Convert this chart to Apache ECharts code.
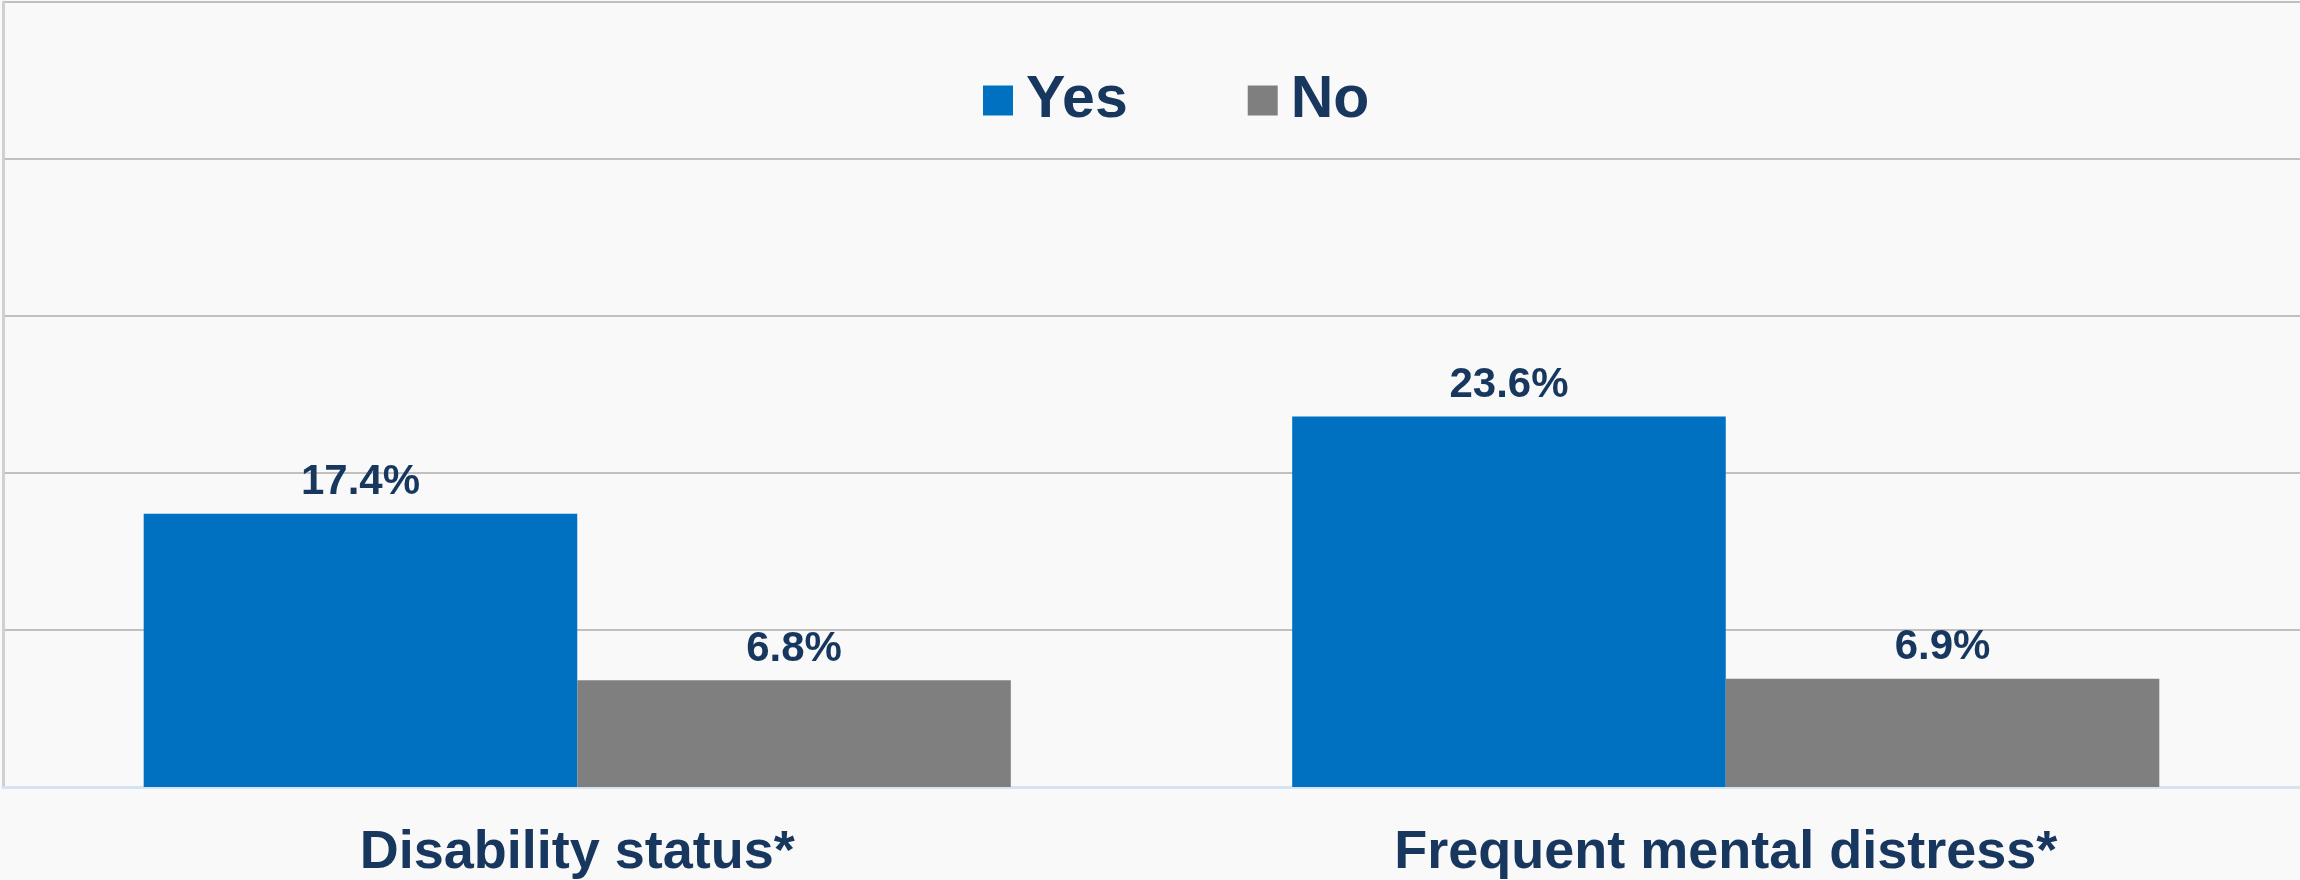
<!DOCTYPE html>
<html>
<head>
<meta charset="utf-8">
<script src="https://cdn.jsdelivr.net/npm/echarts@6/dist/echarts.min.js"></script>
<style>
html,body{margin:0;padding:0;background:#F9F9F9;}
#c{width:2300px;height:880px;}
</style>
</head>
<body>
<div id="c"></div>
<script>
const categories = ["Disability status*", "Frequent mental distress*"];
const seriesNames = ["Yes", "No"];
const yesValues = [17.4, 23.6];
const noValues = [6.8, 6.9];
const yMin = 0, yMax = 50, yInterval = 10;

const textColor = "#17375E";
const font = "'Liberation Sans', Arial, sans-serif";

const chart = echarts.init(document.getElementById('c'), null, {renderer: 'canvas'});
chart.setOption({
  backgroundColor: "#F9F9F9",
  animation: false,
  color: ["#0070C0", "#7F7F7F"],
  legend: {
    data: seriesNames,
    left: 978,
    top: 66,
    itemWidth: 30,
    itemHeight: 30,
    itemGap: 120,
    icon: 'rect',
    textStyle: {
      fontFamily: font, fontWeight: 'bold', fontSize: 59, color: textColor,
      padding: [0, 0, 0, 8]
    }
  },
  grid: {left: 3, right: 0, top: 2, bottom: 92, containLabel: false},
  xAxis: {
    type: 'category',
    data: categories,
    axisLine: {show: true, lineStyle: {color: '#D5E3F5', width: 3}},
    axisTick: {show: false},
    axisLabel: {
      fontFamily: font, fontWeight: 'bold', fontSize: 54, color: textColor, margin: 39
    }
  },
  yAxis: {
    type: 'value',
    min: yMin, max: yMax, interval: yInterval,
    axisLine: {show: true, lineStyle: {color: '#D0D0D0', width: 3}},
    axisTick: {show: false},
    axisLabel: {show: false},
    splitLine: {show: true, lineStyle: {color: '#C0C0C0', width: 2}}
  },
  series: [
    {
      name: seriesNames[0], type: 'bar', data: yesValues,
      barGap: '0%', barCategoryGap: '24.5%',
      label: {
        show: true, position: 'top', distance: 10,
        formatter: p => p.value.toFixed(1) + '%',
        fontFamily: font, fontWeight: 'bold', fontSize: 42, color: textColor
      }
    },
    {
      name: seriesNames[1], type: 'bar', data: noValues,
      barGap: '0%', barCategoryGap: '24.5%',
      label: {
        show: true, position: 'top', distance: 10,
        formatter: p => p.value.toFixed(1) + '%',
        fontFamily: font, fontWeight: 'bold', fontSize: 42, color: textColor
      }
    }
  ]
});
</script>
</body>
</html>
